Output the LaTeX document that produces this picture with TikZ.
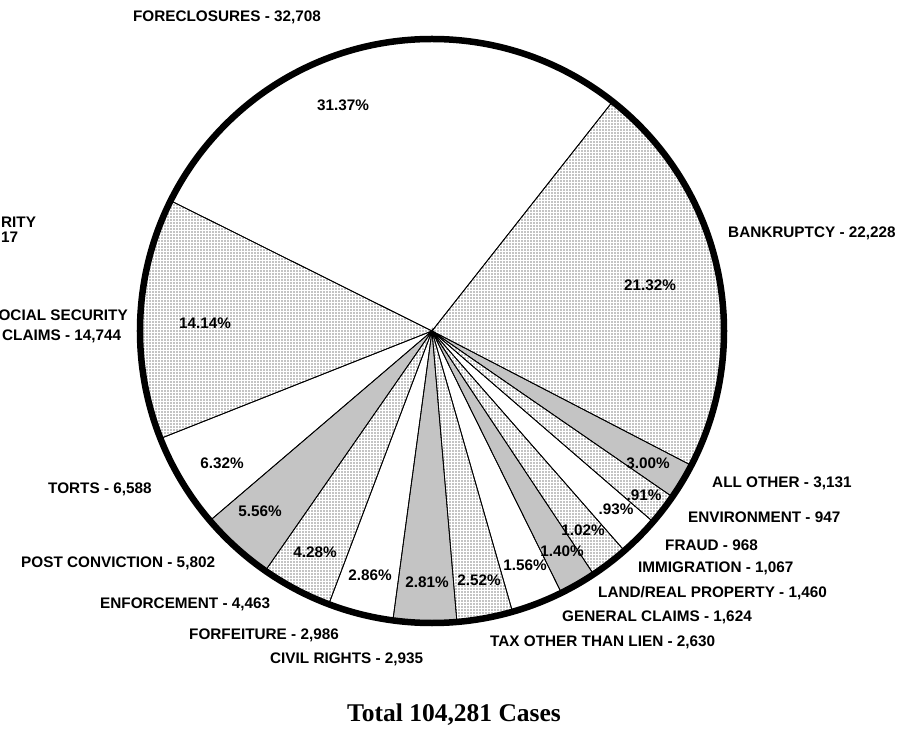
\documentclass[tikz,border=0pt]{standalone}
\usepackage{fontspec}
\usepackage{tikz}
\usetikzlibrary{
  % dotted fills of the slices
  patterns.meta,%
  positioning
}
\newfontfamily\chartfont{Liberation Sans}
\newfontfamily\totalfont{Liberation Serif}
\tikzset{>=latex}
\tikzset{cat/.style={font={\chartfont\bfseries\fontsize{15.3}{16}\selectfont}, inner sep=0pt}}
\tikzset{pct/.style={cat}}
\tikzset{plain/.style={draw, line width=0.8pt},
  lightdots/.style={plain, pattern={Dots[distance=3pt, radius=0.6pt]}},
  darkdots/.style={plain, pattern={Dots[distance=2pt, radius=0.7pt]}}}

\begin{document}
\begin{tikzpicture}[x=1pt, y=1pt]
  \useasboundingbox (-432,-402) rectangle (483,331);
  % slices, start / end angle / fill
  \foreach \a/\b/\s in {-27.4/51.8/lightdots, 51.8/153.5/plain, 153.5/201.6/lightdots,
      201.6/220.5/plain, 220.5/235.2/darkdots, 235.2/249.3/lightdots, 249.3/262.3/plain,
      262.3/274.9/darkdots, 274.9/286.0/lightdots, 286.0/296.3/plain, 296.3/303.6/darkdots,
      303.6/311.2/lightdots, 311.2/319.2/plain, 319.2/325.4/lightdots, 325.4/332.6/darkdots}
    \draw[\s] (0,0) -- (\a:292) arc[start angle=\a, end angle=\b, radius=292] -- cycle;
  \draw[line width=6.5pt] (0,0) circle[radius=292];
  % percentages
  \node[pct] (foreclosurespct) at (-89,226) {31.37\%};
  \node[pct] (bankruptcypct) at (218,46) {21.32\%};
  \node[pct] (socsecpct) at (-227,8) {14.14\%};
  \node[pct] (tortspct) at (-210,-132) {6.32\%};
  \node[pct] (postpct) at (-172,-180) {5.56\%};
  \node[pct] (enforcepct) at (-117,-221) {4.28\%};
  \node[pct] (forfeitpct) at (-62,-244) {2.86\%};
  \node[pct] (civilpct) at (-5,-251) {2.81\%};
  \node[pct] (taxpct) at (47,-249) {2.52\%};
  \node[pct] (generalpct) at (93,-234) {1.56\%};
  \node[pct] (landpct) at (130,-220) {1.40\%};
  \node[pct] (immigpct) at (151,-199) {1.02\%};
  \node[pct] (fraudpct) at (184,-178) {.93\%};
  \node[pct] (envpct) at (212,-164) {.91\%};
  \node[pct] (otherpct) at (216,-132) {3.00\%};
  % categories
  \node[cat] (foreclosures) at (-205,314) {FORECLOSURES - 32,708};
  \node[cat, anchor=west] (bankruptcy) at (296,98) {BANKRUPTCY - 22,228};
  \node[cat, anchor=west] (cutsecurity) at (-431,109) {RITY};
  \node[cat, anchor=west] (cutcount) at (-431,94) {17};
  \node[cat, anchor=east] (socsec) at (-304,16) {OCIAL SECURITY};
  \node[cat, anchor=west] (socsecclaims) at (-430,-5) {CLAIMS - 14,744};
  \node[cat, anchor=west] (torts) at (-384,-158) {TORTS - 6,588};
  \node[cat, anchor=west] (postconv) at (-411,-232) {POST CONVICTION - 5,802};
  \node[cat, anchor=west] (enforcement) at (-332,-273) {ENFORCEMENT - 4,463};
  \node[cat, anchor=west] (forfeiture) at (-243,-304) {FORFEITURE - 2,986};
  \node[cat, anchor=west] (civilrights) at (-162,-328) {CIVIL RIGHTS - 2,935};
  \node[cat, anchor=west] (tax) at (58,-311) {TAX OTHER THAN LIEN - 2,630};
  \node[cat, anchor=west] (general) at (130,-286) {GENERAL CLAIMS - 1,624};
  \node[cat, anchor=west] (land) at (166,-262) {LAND/REAL PROPERTY - 1,460};
  \node[cat, anchor=west] (immigration) at (206,-237) {IMMIGRATION - 1,067};
  \node[cat, anchor=west] (fraud) at (233,-214) {FRAUD - 968};
  \node[cat, anchor=west] (environment) at (256,-186) {ENVIRONMENT - 947};
  \node[cat, anchor=west] (allother) at (280,-152) {ALL OTHER - 3,131};
  \node[anchor=base, inner sep=0pt, font={\totalfont\bfseries\fontsize{25.5}{28}\selectfont}]
    (total) at (22,-390) {Total 104,281 Cases};
\end{tikzpicture}
\end{document}
